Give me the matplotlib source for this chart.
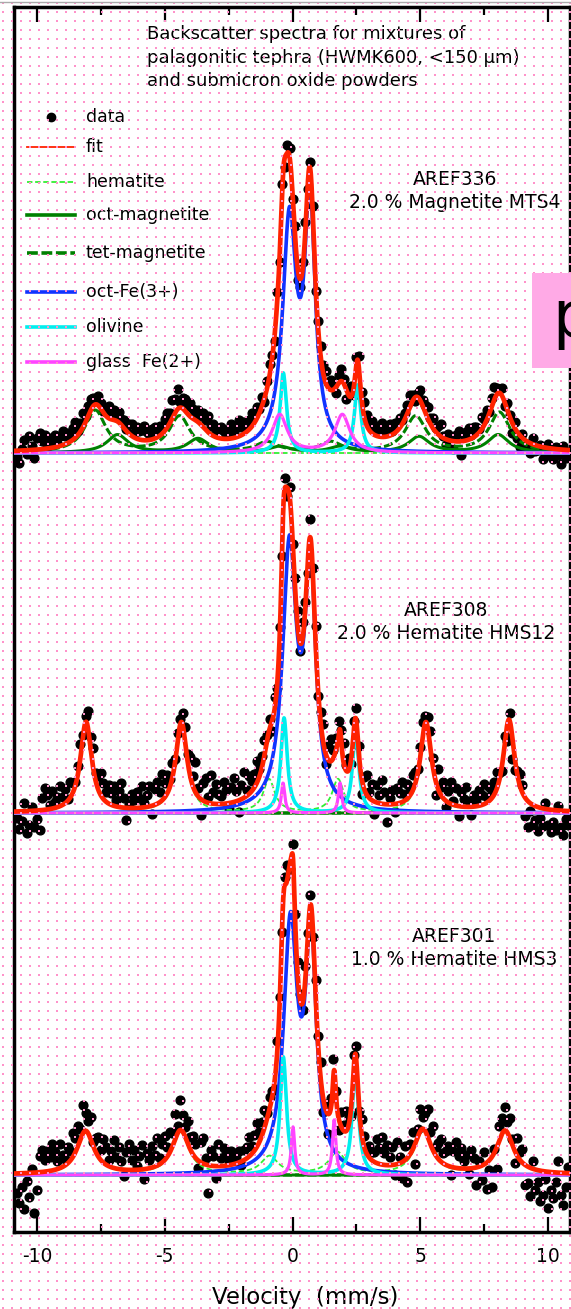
import numpy as np
import matplotlib
matplotlib.use('Agg')
import matplotlib.pyplot as plt
from matplotlib.lines import Line2D
from matplotlib.patches import Rectangle

plt.rcParams['font.family'] = ['DejaVu Sans']
plt.rcParams['axes.unicode_minus'] = False

# channel velocities (mm/s)
velocity = np.linspace(-10.8, 10.8, 217)

# fitted sub-spectra, each line = (centre mm/s, height, half width)
# AREF336  2.0 % Magnetite MTS4
a336_hematite = []
a336_oct_mag = [(-6.85, 18, .5), (-3.7, 14, .5), (-0.5, 6, .5), (1.85, 6, .5), (4.95, 16, .5), (8.05, 18, .5)]
a336_tet_mag = [(-7.72, 42, .5), (-4.42, 36, .5), (-1.0, 10, .5), (1.5, 10, .5), (4.82, 36, .5), (8.1, 40, .5)]
a336_oct_fe3 = [(-0.12, 225, .32), (0.68, 240, .25)]
a336_olivine = [(-0.36, 80, .15), (2.55, 68, .15)]
a336_glass = [(-0.5, 38, .35), (1.95, 38, .35)]

# AREF308  2.0 % Hematite HMS12
a308_hematite = [(-8.08, 90, .27), (-4.35, 88, .27), (-0.92, 33, .27), (1.78, 33, .27), (5.22, 88, .27), (8.47, 92, .27)]
a308_oct_mag = []
a308_tet_mag = []
a308_oct_fe3 = [(-0.12, 258, .32), (0.7, 235, .25)]
a308_olivine = [(-0.33, 95, .15), (2.47, 80, .15)]
a308_glass = [(-0.37, 30, .08), (1.86, 30, .08)]

# AREF301  1.0 % Hematite HMS3
a301_hematite = [(-8.1, 43, .4), (-4.38, 42, .4), (-0.9, 18, .4), (1.75, 22, .4), (5.1, 43, .4), (8.32, 43, .4)]
a301_oct_mag = []
a301_tet_mag = []
a301_oct_fe3 = [(-0.08, 243, .32), (0.72, 228, .25)]
a301_olivine = [(-0.36, 118, .15), (2.46, 105, .15)]
a301_glass = [(0.02, 48, .08), (1.63, 55, .08)]

# data minus fit, per channel
a336_resid = [-6, -12, 2, 10, -4, 14, 4, -8, 12, 16,
              8, 14, 2, 10, 6, 12, 4, 10, 14, 8,
              10, 6, 12, 16, 4, 8, 14, 6, 10, 12,
              8, 4, 10, 6, 2, 8, 12, 6, 10, 4,
              10, 6, 8, 2, 10, 12, 4, 12, 8, 10,
              14, 8, 6, 10, 12, 4, 10, 8, 12, 14,
              10, 18, 14, 20, 6, 10, 12, 8, 14, 10,
              6, 12, 8, 14, 10, 16, 8, 12, 6, 10,
              12, 8, 4, 10, 14, 6, 10, 16, 8, 12,
              6, 10, 14, 8, 12, 4, 10, -4, 8, 12,
              4, -6, 10, -8, 6, -10, 8, 12, -6, 10,
              -12, -8, 6, 10, -6, 8, 12, -10, 6, 10,
              8, 12, 6, 10, 4, -6, 8, 12, 4, -10,
              6, 10, -8, 8, 12, 6, 14, 10, 8, 12,
              6, 10, 8, 14, 6, 10, 12, 4, 10, 8,
              10, 4, 6, 8, 12, 6, -4, 4, 10, 6,
              8, 12, 6, 10, 4, 8, 12, 2, -6, 6,
              4, -8, 6, 10, -14, 6, 8, 12, 4, 10,
              8, 4, 12, 6, 10, 2, 8, 12, 6, 4,
              8, -4, 6, 2, -10, 6, -6, -12, 4, -8,
              -2, -10, 6, -6, -4, 2, -12, -8, 4, -6,
              -10, 2, -6, -14, 4, -8, -2]
a308_resid = [-6, -18, -10, 8, -22, -14, 4, -16, -8, -20,
              12, 22, 14, 4, 18, 6, 10, 20, 8, 14,
              2, 16, 10, 4, 8, 14, 2, 6, 18, 12,
              20, 8, 14, 22, 16, 10, 18, 12, 20, 6,
              16, 24, 10, -12, 4, 14, 8, 16, 10, 22,
              4, 12, 20, -8, 16, 22, 10, 26, 14, 18,
              8, 14, 4, 10, 6, 12, 16, 8, 20, 10,
              30, 8, -16, 18, 24, 6, 28, 12, 20, 10,
              8, 22, 14, -6, 16, 24, 10, -12, 14, 26,
              6, 18, 10, 14, 22, 8, 12, 16, 6, 10,
              -10, 12, -4, 8, -14, 10, -8, 12, -6, 10,
              14, -8, 16, 6, -12, 18, 8, 14, -6, 10,
              18, -10, 14, 22, 8, 12, 16, 8, 20, 6,
              12, -6, 10, 14, 8, -16, 12, 20, 6, 16,
              -12, 18, 8, 24, 12, -18, 6, 14, -8, 16,
              10, 20, 6, 14, 8, 16, 12, 4, 10, 14,
              6, 12, 18, 10, -14, 20, 8, 16, -6, 12,
              22, 4, 18, -10, 14, 8, 20, 6, -8, 12,
              4, 16, 10, 20, 6, 14, 8, 12, 16, 6,
              -6, 10, -16, 8, -22, -12, 4, 12, 8, -18,
              -26, -8, -20, -14, -24, -10, -18, 6, -16, -22,
              -12, -20, 4, -16, -24, -8, -14]
a301_resid = [-20, -30, -14, -36, -8, -24, 4, -40, -18, 16,
              22, 12, 20, 14, 26, 18, 8, 24, 12, 6,
              16, 10, 24, 14, 20, 10, 28, 18, 12, 22,
              4, 14, 20, 10, 24, 18, 6, 16, 28, 12,
              22, 8, -6, 18, 26, 10, 20, 4, 14, 24,
              -10, 16, 8, 22, 12, 28, 6, 18, 24, 10,
              20, 14, 26, 8, 30, 16, 10, 22, 12, 18,
              14, -8, 20, 26, 6, -28, 16, 10, -12, 22,
              8, 18, 12, 4, 14, 10, 6, 12, -4, 10,
              12, 20, 8, 16, 24, 10, 14, 18, 6, 12,
              6, -8, 12, 4, -10, 8, 14, -6, 10, 4,
              12, 6, -8, 14, 4, 10, -6, 12, 8, 16,
              -14, 6, -20, 10, 18, 4, -12, 14, 6, 20,
              8, -10, 12, 16, -6, 14, 10, 4, 12, 8,
              10, 24, 16, 28, 12, 20, 8, 18, -10, 22,
              6, -16, 14, -24, 10, 18, -20, 8, 22, 12,
              18, 28, 12, 24, 8, 16, 22, 10, 14, 20,
              -8, 16, 26, 12, 20, 8, 14, -6, 18, 10,
              -18, 6, -14, 12, -26, -10, -30, 4, -22, 14,
              16, 24, 10, 20, 6, -12, 18, 8, 14, -20,
              -16, -28, 8, -20, -12, -30, -24, -8, -36, -18,
              -26, -10, 12, -22, -32, -14, 6]

sample_names = ['AREF336\n2.0 % Magnetite MTS4', 'AREF308\n2.0 % Hematite HMS12', 'AREF301\n1.0 % Hematite HMS3']
legend_labels = ['data', 'fit', 'hematite', 'oct-magnetite', 'tet-magnetite', 'oct-Fe(3+)', 'olivine', 'glass  Fe(2+)']

RED = '#ff2200'
LGREEN = '#33ee33'
DGREEN = '#008000'
BLUE = '#1133ff'
CYAN = '#00eeee'
MAGENTA = '#ff44ff'


def lorentz(v, lines):
    y = np.zeros_like(v)
    for c, h, w in lines:
        y = y + h / (1 + ((v - c) / w) ** 2)
    return y


W, H = 571, 1309
fig = plt.figure(figsize=(W / 100, H / 100), dpi=100)
ax = fig.add_axes([14 / W, (H - 1232) / H, (570 - 14) / W, (1232 - 7) / H])

spectra = [
    (779, [a336_hematite, a336_oct_mag, a336_tet_mag, a336_oct_fe3, a336_olivine, a336_glass], a336_resid, (6.36, 1041)),
    (419, [a308_hematite, a308_oct_mag, a308_tet_mag, a308_oct_fe3, a308_olivine, a308_glass], a308_resid, (6.0, 610)),
    (57, [a301_hematite, a301_oct_mag, a301_tet_mag, a301_oct_fe3, a301_olivine, a301_glass], a301_resid, (6.33, 284)),
]
comp_styles = [
    dict(color=LGREEN, lw=1.3, ls=(0, (3, 1.5))),
    dict(color=DGREEN, lw=2.2),
    dict(color=DGREEN, lw=2.2, ls=(0, (3, 1))),
    dict(color=BLUE, lw=2.6),
    dict(color=CYAN, lw=2.6),
    dict(color=MAGENTA, lw=2.3),
]

vfine = np.linspace(-10.9, 10.9, 1600)
for (base, comps, resid, lab), name in zip(spectra, sample_names):
    allc = [l for c in comps for l in c]
    data = lorentz(velocity, allc) + np.array(resid)
    ax.plot(velocity, base + data, 'o', color='k', ms=6.3, zorder=2)
    for c, st in zip(comps, comp_styles):
        ax.plot(vfine, base + lorentz(vfine, c), zorder=3, **st)
    ax.plot(vfine, base + lorentz(vfine, allc), color=RED, lw=3.4, zorder=5)
    ax.text(lab[0], lab[1], name, ha='center', va='center', fontsize=13.5, linespacing=1.3)

ax.text(-5.69, 1207, 'Backscatter spectra for mixtures of\npalagonitic tephra (HWMK600, <150 µm)\nand submicron oxide powders',
        ha='left', va='top', fontsize=13, linespacing=1.4)

# legend drawn row by row (rows are not evenly spaced in the original)
legend_rows = [117, 147, 182, 215, 253, 292, 327, 362]
legend_styles = [
    None,
    dict(color=RED, lw=1.3),
    dict(color=LGREEN, lw=1.3, ls=(0, (3, 1.5))),
    dict(color=DGREEN, lw=2.6),
    dict(color=DGREEN, lw=2.6, ls=(0, (3, 1))),
    dict(color=BLUE, lw=2.6),
    dict(color=CYAN, lw=2.6),
    dict(color=MAGENTA, lw=2.6),
]
for yrow, lab, st in zip(legend_rows, legend_labels, legend_styles):
    yf = 1 - yrow / H
    if st is None:
        fig.add_artist(Line2D([51 / W], [yf], transform=fig.transFigure, ls='none', marker='o', ms=6, color='k'))
    else:
        fig.add_artist(Line2D([27 / W, 75 / W], [yf, yf], transform=fig.transFigure, **st))
    fig.text(86 / W, yf, lab, ha='left', va='center', fontsize=12.5)

ax.set_xlim(-10.9, 10.86)
ax.set_ylim(0, 1225)
ax.set_yticks([])
ax.set_xticks([-10, -5, 0, 5, 10])
ax.set_xticks([-7.5, -2.5, 2.5, 7.5], minor=True)
ax.tick_params(axis='x', which='both', direction='in', top=True, bottom=True, width=1.6)
ax.tick_params(axis='x', which='major', length=11, pad=11, labelsize=13.5)
ax.tick_params(axis='x', which='minor', length=6)
for s in ax.spines.values():
    s.set_linewidth(2.5)
ax.set_xlabel('Velocity  (mm/s)', fontsize=16.5)
ax.xaxis.set_label_coords(0.523, -0.044)

# pink dotted screen over everything
ov = fig.add_axes([0, 0, 1, 1], zorder=10)
ov.set_xlim(0, W)
ov.set_ylim(H, 0)
ov.axis('off')
gx, gy = np.meshgrid(np.arange(3, W, 9), np.arange(3, H, 9))
ov.plot(gx.ravel(), gy.ravel(), 's', ms=2.15, mew=0, color='#ff92ca')

fig.patches.append(Rectangle((532 / W, 1 - 368 / H), 40 / W, 95 / H, transform=fig.transFigure,
                             facecolor='#ffaae6', edgecolor='none', zorder=11))
fig.text(552 / W, 1 - 337 / H, 'p', fontsize=46, ha='left', va='baseline', zorder=12)
fig.add_artist(Line2D([0, 1], [1 - 1.5 / H, 1 - 1.5 / H], transform=fig.transFigure, color='#aaaaaa', lw=1, zorder=12))

fig.savefig('out.png', dpi=100)
